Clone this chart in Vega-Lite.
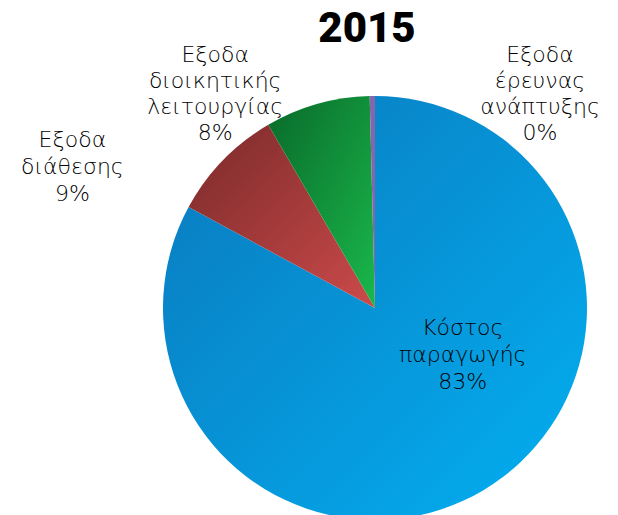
{
  "$schema": "https://vega.github.io/schema/vega-lite/v6.json",
  "autosize": "none",
  "width": 486,
  "height": 424,
  "padding": {"left": 132, "top": 96, "right": 0, "bottom": 0},
  "background": "white",
  "title": {"text": "2015", "fontSize": 42, "font": "Roboto", "fontWeight": 900, "color": "#000000", "anchor": "middle", "offset": 0, "dx": -8, "dy": 7},
  "data": {"values": [
    {"cat": "Κόστος παραγωγής", "label": "Κόστος\nπαραγωγής\n83%", "value": 82.9, "rank": 1},
    {"cat": "Εξοδα διάθεσης", "label": "Εξοδα\nδιάθεσης\n9%", "value": 8.7, "rank": 2},
    {"cat": "Εξοδα διοικητικής λειτουργίας", "label": "Εξοδα\nδιοικητικής\nλειτουργίας\n8%", "value": 8.0, "rank": 3},
    {"cat": "Εξοδα έρευνας ανάπτυξης", "label": "Εξοδα\nέρευνας\nανάπτυξης\n0%", "value": 0.4, "rank": 4}
  ]},
  "layer": [
    {
      "mark": {"type": "arc", "radius": 212, "fill": {"gradient": "linear", "x1": 0, "y1": 0, "x2": 1, "y2": 1, "stops": [{"offset": 0, "color": "#0a78bc"}, {"offset": 1, "color": "#03b0f2"}]}},
      "encoding": {
        "theta": {"field": "value", "type": "quantitative", "stack": true},
        "order": {"field": "rank", "type": "quantitative"},
        "opacity": {"condition": {"test": "datum.rank === 1", "value": 1}, "value": 0}
      }
    },
    {
      "mark": {"type": "arc", "radius": 212, "fill": {"gradient": "linear", "x1": 0, "y1": 0, "x2": 1, "y2": 1, "stops": [{"offset": 0, "color": "#7a2a2a"}, {"offset": 1, "color": "#cc4a4a"}]}},
      "encoding": {
        "theta": {"field": "value", "type": "quantitative", "stack": true},
        "order": {"field": "rank", "type": "quantitative"},
        "opacity": {"condition": {"test": "datum.rank === 2", "value": 1}, "value": 0}
      }
    },
    {
      "mark": {"type": "arc", "radius": 212, "fill": {"gradient": "linear", "x1": 0, "y1": 0, "x2": 1, "y2": 1, "stops": [{"offset": 0, "color": "#096a2a"}, {"offset": 1, "color": "#1ab84c"}]}},
      "encoding": {
        "theta": {"field": "value", "type": "quantitative", "stack": true},
        "order": {"field": "rank", "type": "quantitative"},
        "opacity": {"condition": {"test": "datum.rank === 3", "value": 1}, "value": 0}
      }
    },
    {
      "mark": {"type": "arc", "radius": 212, "fill": "#8466ad"},
      "encoding": {
        "theta": {"field": "value", "type": "quantitative", "stack": true},
        "order": {"field": "rank", "type": "quantitative"},
        "opacity": {"condition": {"test": "datum.rank === 4", "value": 1}, "value": 0}
      }
    },
    {
      "transform": [{"stack": "value", "groupby": [], "sort": [{"field": "rank", "order": "ascending"}], "as": ["s0", "s1"]}, {"filter": "datum.rank === 1"}],
      "mark": {"type": "text", "radius": 90, "thetaOffset": 1.794, "font": "DejaVu Sans", "fontWeight": 200, "fontSize": 22, "lineHeight": 27, "lineBreak": "\n", "color": "#000000", "align": "center", "baseline": "middle"},
      "encoding": {"theta": {"field": "s0", "type": "quantitative", "stack": null}, "text": {"field": "label"}}
    },
    {
      "transform": [{"stack": "value", "groupby": [], "sort": [{"field": "rank", "order": "ascending"}], "as": ["s0", "s1"]}, {"filter": "datum.rank === 2"}],
      "mark": {"type": "text", "radius": 346, "thetaOffset": 0.010, "font": "DejaVu Sans", "fontWeight": 200, "fontSize": 22, "lineHeight": 27, "lineBreak": "\n", "color": "#000000", "align": "center", "baseline": "middle"},
      "encoding": {"theta": {"field": "s0", "type": "quantitative", "stack": null}, "text": {"field": "label"}}
    },
    {
      "transform": [{"stack": "value", "groupby": [], "sort": [{"field": "rank", "order": "ascending"}], "as": ["s0", "s1"]}, {"filter": "datum.rank === 3"}],
      "mark": {"type": "text", "radius": 299, "thetaOffset": -0.036, "font": "DejaVu Sans", "fontWeight": 200, "fontSize": 22, "lineHeight": 26, "lineBreak": "\n", "color": "#000000", "align": "center", "baseline": "middle"},
      "encoding": {"theta": {"field": "s0", "type": "quantitative", "stack": null}, "text": {"field": "label"}}
    },
    {
      "transform": [{"stack": "value", "groupby": [], "sort": [{"field": "rank", "order": "ascending"}], "as": ["s0", "s1"]}, {"filter": "datum.rank === 4"}],
      "mark": {"type": "text", "radius": 302, "thetaOffset": 0.603, "font": "DejaVu Sans", "fontWeight": 200, "fontSize": 22, "lineHeight": 26, "lineBreak": "\n", "color": "#000000", "align": "center", "baseline": "middle"},
      "encoding": {"theta": {"field": "s0", "type": "quantitative", "stack": null}, "text": {"field": "label"}}
    }
  ],
  "view": {"stroke": null}
}
